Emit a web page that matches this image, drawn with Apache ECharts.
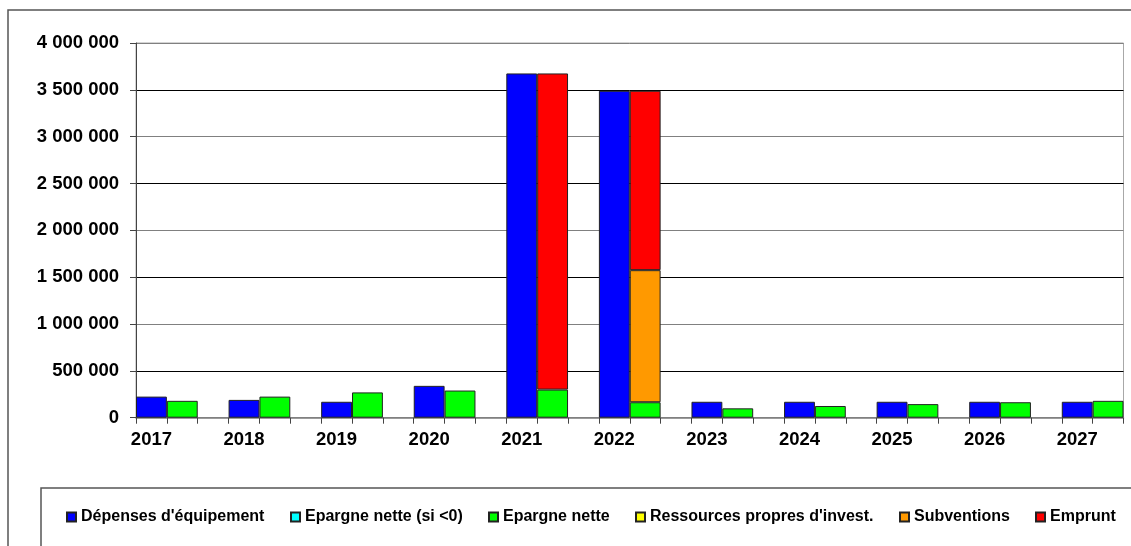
<!DOCTYPE html>
<html>
<head>
<meta charset="utf-8">
<script src="https://cdn.jsdelivr.net/npm/echarts@6/dist/echarts.min.js"></script>
<style>
html,body{margin:0;padding:0;background:#fff;}
#chart{width:1131px;height:546px;}
</style>
</head>
<body>
<div id="chart"></div>
<script>
// ---- data ----
const years = ['2017','2018','2019','2020','2021','2022','2023','2024','2025','2026','2027'];
const depensesEquipement = [225000, 190000, 170000, 340000, 3675000, 3490000, 170000, 170000, 170000, 170000, 170000];
const epargneNetteNegative = [null, null, null, null, null, null, null, null, null, null, null];
const epargneNette = [180000, 225000, 270000, 290000, 300000, 165000, 100000, 125000, 145000, 165000, 180000];
const ressourcesPropres = [null, null, null, null, null, null, null, null, null, null, null];
const subventions = [null, null, null, null, null, 1410000, null, null, null, null, null];
const emprunt = [null, null, null, null, 3375000, 1915000, null, null, null, null, null];
const yTickValues = [0, 500000, 1000000, 1500000, 2000000, 2500000, 3000000, 3500000, 4000000];

// ---- slots: each year = [expense bar, resources stack, gap] ----
const slotCount = years.length * 3 - 1;
const slots = [];
for (let i = 0; i < slotCount; i++) slots.push('s' + i);
function toSlots(arr, offset) {
  const out = new Array(slotCount).fill(null);
  arr.forEach((v, i) => { out[i * 3 + offset] = v; });
  return out;
}
const fmt = v => String(v).replace(/\B(?=(\d{3})+(?!\d))/g, ' ');
const FONT = '"Liberation Sans", Arial, sans-serif';

const seriesDefs = [
  {name: "Dépenses d'équipement", data: depensesEquipement, off: 0, color: '#0000FF'},
  {name: 'Epargne nette (si <0)', data: epargneNetteNegative, off: 1, color: '#00FFFF'},
  {name: 'Epargne nette', data: epargneNette, off: 1, color: '#00FF00'},
  {name: "Ressources propres d'invest.", data: ressourcesPropres, off: 1, color: '#FFFF00'},
  {name: 'Subventions', data: subventions, off: 1, color: '#FF9900'},
  {name: 'Emprunt', data: emprunt, off: 1, color: '#FF0000'}
];
const legendLefts = [66, 290, 488, 635, 899, 1035];

const chart = echarts.init(document.getElementById('chart'), null, {renderer: 'canvas'});
chart.setOption({
  animation: false,
  backgroundColor: '#fff',
  grid: {left: 136, right: 7.5, top: 43, bottom: 128.3, show: true, borderColor: '#a8a8a8', borderWidth: 1, containLabel: false},
  legend: seriesDefs.map((s, i) => ({
    data: [s.name], left: legendLefts[i], top: 509, padding: 0,
    icon: 'rect', itemWidth: 9, itemHeight: 9,
    textStyle: {fontFamily: FONT, fontSize: 16, fontWeight: 'bold', color: '#000'},
    selectedMode: false
  })),
  xAxis: {
    type: 'category', data: slots, boundaryGap: true,
    axisLine: {lineStyle: {color: '#808080', width: 1.5}},
    axisTick: {show: true, interval: 0, length: 6, lineStyle: {color: '#444'}},
    axisLabel: {interval: 0, margin: 13, fontFamily: FONT, fontSize: 18.5, fontWeight: 'bold', color: '#000',
      formatter: (v, idx) => (idx % 3 === 0 ? years[idx / 3] : '')},
    splitLine: {show: false}
  },
  yAxis: {
    type: 'value', min: yTickValues[0], max: yTickValues[yTickValues.length - 1], interval: yTickValues[1] - yTickValues[0],
    axisLine: {show: true, lineStyle: {color: '#444', width: 1}},
    axisTick: {show: true, length: 6, lineStyle: {color: '#444'}},
    axisLabel: {margin: 17, fontFamily: FONT, fontSize: 18.5, fontWeight: 'bold', color: '#000', formatter: v => fmt(v)},
    splitLine: {show: true, lineStyle: {color: ['#808080', '#000000'], width: 1}}
  },
  series: seriesDefs.map(s => ({
    name: s.name, type: 'bar', stack: 'total', barWidth: '100%',
    data: toSlots(s.data, s.off),
    itemStyle: {color: s.color, borderColor: '#222', borderWidth: 1},
    emphasis: {disabled: true}
  })),
  graphic: [
    {type: 'rect', shape: {x: 8, y: 10, width: 1300, height: 700}, style: {fill: 'none', stroke: '#555', lineWidth: 1.5}, silent: true},
    {type: 'rect', shape: {x: 41, y: 488, width: 1300, height: 200}, style: {fill: 'none', stroke: '#555', lineWidth: 1.5}, silent: true}
  ]
});
</script>
</body>
</html>
